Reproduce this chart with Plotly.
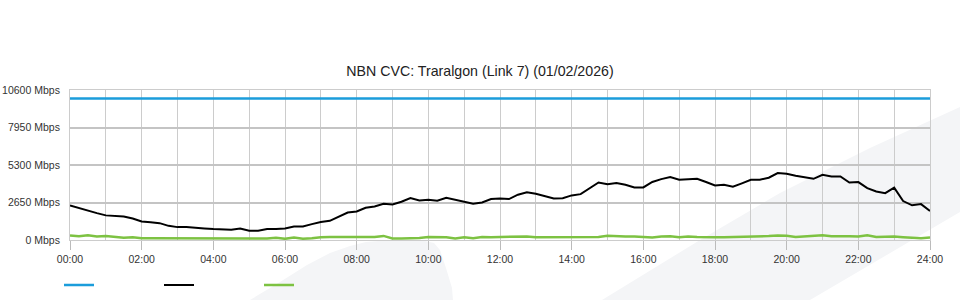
import plotly.graph_objects as go

# ---------------- data ----------------
hours = [0.0, 0.25, 0.5, 0.75, 1.0, 1.25, 1.5, 1.75, 2.0, 2.25, 2.5, 2.75,
         3.0, 3.25, 3.5, 3.75, 4.0, 4.25, 4.5, 4.75, 5.0, 5.25, 5.5, 5.75,
         6.0, 6.25, 6.5, 6.75, 7.0, 7.25, 7.5, 7.75, 8.0, 8.25, 8.5, 8.75,
         9.0, 9.25, 9.5, 9.75, 10.0, 10.25, 10.5, 10.75, 11.0, 11.25, 11.5, 11.75,
         12.0, 12.25, 12.5, 12.75, 13.0, 13.25, 13.5, 13.75, 14.0, 14.25, 14.5, 14.75,
         15.0, 15.25, 15.5, 15.75, 16.0, 16.25, 16.5, 16.75, 17.0, 17.25, 17.5, 17.75,
         18.0, 18.25, 18.5, 18.75, 19.0, 19.25, 19.5, 19.75, 20.0, 20.25, 20.5, 20.75,
         21.0, 21.25, 21.5, 21.75, 22.0, 22.25, 22.5, 22.75, 23.0, 23.25, 23.5, 23.75,
         24.0]

capacity = [10000] * len(hours)

traffic = [2440, 2250, 2065, 1900, 1740, 1710, 1665, 1520, 1310, 1260, 1190, 1000,
           910, 910, 885, 815, 770, 720, 720, 815, 650, 650, 770, 770,
           815, 955, 955, 1120, 1265, 1355, 1640, 1945, 2015, 2275, 2370, 2560,
           2510, 2700, 2960, 2795, 2840, 2770, 2985, 2840, 2675, 2560, 2650, 2890,
           2935, 2890, 3200, 3380, 3265, 3120, 2935, 2950, 3150, 3240, 3666, 4066,
           3948, 4019, 3901, 3713, 3713, 4100, 4300, 4450, 4255, 4278, 4325, 4100,
           3850, 3901, 3760, 4000, 4255, 4255, 4400, 4726, 4679, 4537, 4443, 4325,
           4608, 4490, 4490, 4066, 4090, 3666, 3430, 3312, 3700, 2750, 2450, 2535,
           2050]

upload = [320, 260, 330, 240, 290, 200, 160, 190, 130, 130, 130, 130,
          130, 130, 120, 90, 85, 85, 130, 85, 85, 90, 100, 160,
          85, 180, 90, 120, 200, 205, 205, 205, 205, 205, 205, 290,
          110, 105, 110, 140, 205, 200, 200, 110, 200, 130, 205, 200,
          205, 205, 200, 250, 190, 190, 190, 195, 195, 200, 200, 205,
          300, 260, 250, 250, 240, 180, 250, 260, 200, 250, 220, 190,
          190, 200, 210, 240, 270, 250, 280, 320, 300, 220, 260, 280,
          340, 260, 280, 260, 240, 330, 220, 250, 240, 200, 190, 130,
          180]

x_tick_vals = [0, 2, 4, 6, 8, 10, 12, 14, 16, 18, 20, 22, 24]
x_tick_text = ["00:00", "02:00", "04:00", "06:00", "08:00", "10:00", "12:00",
               "14:00", "16:00", "18:00", "20:00", "22:00", "24:00"]
y_tick_vals = [0, 2650, 5300, 7950, 10600]
y_tick_text = ["0 Mbps", "2650 Mbps", "5300 Mbps", "7950 Mbps", "10600 Mbps"]

title_text = "NBN CVC: Traralgon (Link 7) (01/02/2026)"

# ---------------- layout geometry ----------------
W, H = 960, 300
ML, MR, MT, MB = 70, 30, 90, 60
PW, PH = W - ML - MR, H - MT - MB


def to_paper_path(pts):
    segs = []
    for i, (px, py) in enumerate(pts):
        xp = (px - ML) / PW
        yp = (H - MB - py) / PH
        segs.append(("M" if i == 0 else "L") + f"{xp:.4f},{yp:.4f}")
    return " ".join(segs) + " Z"


wm1 = [(250, 300), (280, 282), (307, 265), (330, 253), (350, 246), (366, 242),
       (385, 240.5), (425, 241), (434, 243), (440, 250), (446, 268), (452, 288),
       (453, 300)]
wm2 = [(602, 300), (700, 240), (780, 193), (870, 148), (960, 107), (960, 212),
       (810, 300)]

fig = go.Figure()

fig.add_trace(go.Scatter(x=hours, y=capacity, mode="lines", name=" ",
                         line=dict(color="#1b9ddb", width=2.5)))
fig.add_trace(go.Scatter(x=hours, y=traffic, mode="lines", name=" ",
                         line=dict(color="#000000", width=2)))
fig.add_trace(go.Scatter(x=hours, y=upload, mode="lines", name=" ",
                         line=dict(color="#7dc242", width=2.5)))

shapes = []
for pts in (wm1, wm2):
    shapes.append(dict(type="path", path=to_paper_path(pts), xref="paper", yref="paper",
                       fillcolor="#f4f5f7", line=dict(width=0), layer="below"))

fig.update_layout(
    width=W, height=H,
    margin=dict(l=ML, r=MR, t=MT, b=MB, pad=0, autoexpand=False),
    paper_bgcolor="#ffffff",
    plot_bgcolor="rgba(0,0,0,0)",
    font=dict(family="Liberation Sans, Arial, sans-serif", size=11, color="#333333"),
    title=dict(text=title_text, x=0.5, xref="container", xanchor="center",
               y=1 - 71 / H, yref="container", yanchor="middle",
               font=dict(size=14.2, color="#222222")),
    shapes=shapes,
    showlegend=True,
    legend=dict(orientation="h", x=59 / W, xref="container", xanchor="left",
                y=1 - 285 / H, yref="container", yanchor="middle",
                entrywidth=55, entrywidthmode="pixels", bgcolor="rgba(0,0,0,0)",
                font=dict(size=11), itemclick=False, itemdoubleclick=False),
    hovermode=False,
)

fig.update_xaxes(
    range=[0, 24], tickvals=x_tick_vals, ticktext=x_tick_text,
    showgrid=True, gridcolor="#cccccc", gridwidth=1,
    minor=dict(dtick=1, tick0=0, showgrid=True, gridcolor="#cccccc", gridwidth=1),
    showline=True, linecolor="#cccccc", linewidth=1, mirror=True,
    ticks="outside", ticklen=9, tickcolor="#bbbbbb", tickwidth=1,
    zeroline=False, fixedrange=True, automargin=False,
    tickfont=dict(size=10.5, color="#333333"),
)
fig.update_yaxes(
    range=[0, 10600], tickvals=y_tick_vals, ticktext=y_tick_text,
    showgrid=True, gridcolor="#c4c4c4", gridwidth=2,
    showline=True, linecolor="#cccccc", linewidth=1, mirror=True,
    ticks="", ticklabelstandoff=7,
    zeroline=False, fixedrange=True, automargin=False,
    tickfont=dict(size=10.5, color="#333333"),
)

fig.write_html("out.html", config={"displayModeBar": False})
